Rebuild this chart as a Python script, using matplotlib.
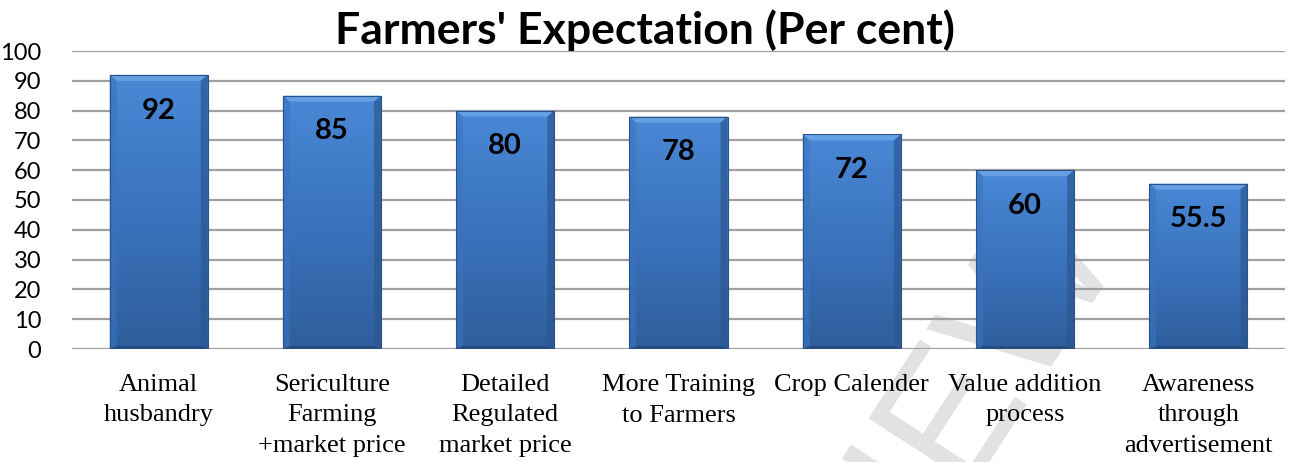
import numpy as np
import matplotlib
matplotlib.use("Agg")
import matplotlib.pyplot as plt
from matplotlib.patches import Polygon, Rectangle
from matplotlib.colors import LinearSegmentedColormap

categories = ["Animal\nhusbandry", "Sericulture\nFarming\n+market price",
              "Detailed\nRegulated\nmarket price", "More Training\nto Farmers",
              "Crop Calender", "Value addition\nprocess",
              "Awareness\nthrough\nadvertisement"]
values = [92, 85, 80, 78, 72, 60, 55.5]
value_labels = ["92", "85", "80", "78", "72", "60", "55.5"]
yticks = [0, 10, 20, 30, 40, 50, 60, 70, 80, 90, 100]
title = "Farmers' Expectation (Per cent)"

fig = plt.figure(figsize=(12.9, 4.62), dpi=100)
ax = fig.add_axes([72/1290, 1-349/462, 1213/1290, 298/462])
ax.set_zorder(2)
ax.patch.set_alpha(0)

# watermark (behind the chart)
fig.text(885/1290, 1-515/462, "REVIEW", fontsize=130, color="#e2e2e2", rotation=57,
         ha="center", va="center", family="Liberation Sans", zorder=1)

ax.set_xlim(-0.5, len(values) - 0.5)
ax.set_ylim(0, 100)
ax.set_yticks(yticks)
ax.yaxis.grid(True, color="#a0a0a0", linewidth=1.6)
ax.set_axisbelow(True)
for s in ax.spines.values():
    s.set_visible(False)
ax.tick_params(axis="y", length=0, pad=22, labelsize=17)
ax.tick_params(axis="x", length=0, pad=18)
for t in ax.get_yticklabels():
    t.set_family("Lato")

x = np.arange(len(values))
w = 0.566
cmap = LinearSegmentedColormap.from_list("b", ["#2f5e9c", "#3a73bd", "#4a88d6"])
bars = ax.bar(x, values, width=w, color="#3b78c4", edgecolor="none", zorder=2)
grad = np.linspace(0, 1, 256).reshape(-1, 1)
for b, v in zip(bars, values):
    x0 = b.get_x(); x1 = x0 + w
    im = ax.imshow(grad, extent=(x0, x1, 0, v), origin="lower", cmap=cmap,
                   aspect="auto", zorder=3)
    im.set_clip_path(b)
    dx = 0.04; dy = 2.0
    ax.add_patch(Polygon([(x0, v), (x1, v), (x1 - dx, v - dy), (x0 + dx, v - dy)],
                         closed=True, facecolor="#66a0e4", edgecolor="none", zorder=4))
    ax.add_patch(Polygon([(x0, v), (x0 + dx, v - dy), (x0 + dx, dy * 0.5), (x0, 0)],
                         closed=True, facecolor="#3a74bf", edgecolor="none", zorder=4, alpha=0.6))
    ax.add_patch(Polygon([(x1, v), (x1 - dx, v - dy), (x1 - dx, dy * 0.5), (x1, 0)],
                         closed=True, facecolor="#2b5790", edgecolor="none", zorder=4, alpha=0.7))
    ax.add_patch(Polygon([(x0, 0), (x1, 0), (x1 - dx, dy * 0.5), (x0 + dx, dy * 0.5)],
                         closed=True, facecolor="#254d82", edgecolor="none", zorder=4))
    ax.add_patch(Rectangle((x0, 0), w, v, facecolor="none", edgecolor="#2a5288",
                           linewidth=0.8, zorder=5))

for xi, v, lab in zip(x, values, value_labels):
    ax.text(xi, v - 12, lab, ha="center", va="center", fontsize=21,
            fontweight="bold", family="Lato", zorder=6)

ax.set_xticks(x)
ax.set_xticklabels(categories, family="Liberation Serif", fontsize=19,
                   linespacing=1.5, va="top")

fig.text(0.5, 0.935, title, ha="center", va="center", fontsize=32,
         fontweight="bold", family="Lato")

fig.savefig("out.png", dpi=100)
